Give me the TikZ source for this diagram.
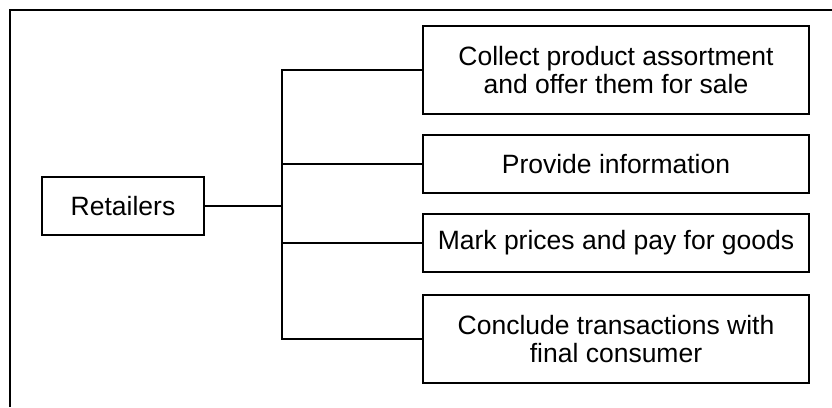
\documentclass[tikz,border=0pt]{standalone}
\usepackage{fontspec}
\setmainfont{Liberation Sans}
\begin{document}
\begin{tikzpicture}[x=1pt,y=-1pt,
  line width=1.4pt,
  box/.style={draw, line width=1.4pt, inner sep=0pt, align=center,
    font=\fontsize{26.5}{28.5}\selectfont},
  wide/.style={box, minimum width=386pt}]
\useasboundingbox (0,0) rectangle (832,407);
% outer frame (cut by the picture edges)
\draw (10,407) -- (10,10) -- (832,10);
\node[box, minimum width=162pt, minimum height=58pt] (r) at (123,206) {Retailers};
\node[wide, minimum height=88pt] (b1) at (616,70) {Collect product assortment\\and offer them for sale};
\node[wide, minimum height=58pt] (b2) at (616,164) {Provide information};
\node[wide, minimum height=58pt] (b3) at (616,243) {Mark prices and pay for goods};
\node[wide, minimum height=88pt] (b4) at (616,339) {Conclude transactions with\\final consumer};
\coordinate (j) at (282,206);
\draw (r.east) -- (j);
\draw (b1.west) -- (b1.west -| j) -- (b4.west -| j) -- (b4.west);
\draw (b2.west) -- (b2.west -| j);
\draw (b3.west) -- (b3.west -| j);
\end{tikzpicture}
\end{document}
